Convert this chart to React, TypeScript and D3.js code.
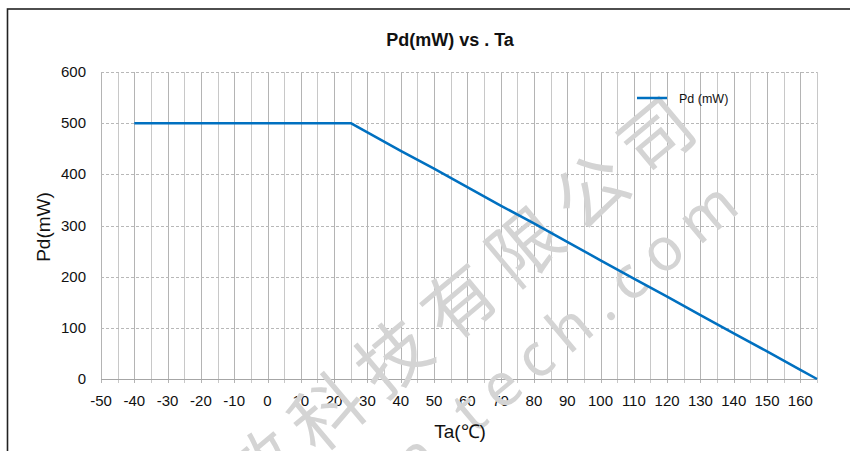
import React, { useEffect, useRef } from 'react';
import * as d3 from 'd3';

// Ta (°C) vs Pd (mW) derating points
const temps = [-40, 25, 30, 40, 50, 60, 70, 80, 90, 100, 110, 120, 130, 140, 150, 160, 165];
const power = [500, 500, 482, 446, 411, 375, 339, 304, 268, 232, 196, 161, 125, 89, 54, 18, 0];
const xTicks = [-50, -40, -30, -20, -10, 0, 10, 20, 30, 40, 50, 60, 70, 80, 90, 100, 110, 120, 130, 140, 150, 160];
const yTicks = [0, 100, 200, 300, 400, 500, 600];
const seriesName = 'Pd (mW)';
const watermarkCn = '敏科技有限公司';
const watermarkEn = 'n tech.com';

function App() {
  const ref = useRef<SVGSVGElement>(null);

  useEffect(() => {
    const svg = d3.select(ref.current);
    svg.selectAll('*').remove();

    const width = 850;
    const height = 451;
    const font = '"Liberation Sans", Arial, sans-serif';

    svg.attr('width', width).attr('height', height);

    svg.append('rect').attr('width', width).attr('height', height).attr('fill', '#fff');

    // outer chart border (runs off right / bottom)
    svg.append('rect')
      .attr('x', 7.5).attr('y', 9)
      .attr('width', 900).attr('height', 500)
      .attr('fill', 'none')
      .attr('stroke', '#222')
      .attr('stroke-width', 1.6);

    const x = d3.scaleLinear().domain([-50, 165]).range([101, 817]);
    const y = d3.scaleLinear().domain([0, 600]).range([379, 72]);

    // vertical grid every 5 degrees
    const vLines = d3.range(-50, 166, 5);
    svg.append('g').selectAll('line')
      .data(vLines)
      .enter()
      .append('line')
      .attr('x1', d => Math.round(x(d)) + 0.5)
      .attr('x2', d => Math.round(x(d)) + 0.5)
      .attr('y1', y(600))
      .attr('y2', y(0) + 4)
      .attr('stroke', d => (d % 10 === 0 ? '#b4b4b4' : '#c8c8c8'))
      .attr('stroke-width', 1);

    // horizontal dashed grid
    svg.append('g').selectAll('line')
      .data(yTicks.filter(d => d > 0))
      .enter()
      .append('line')
      .attr('x1', x(-50))
      .attr('x2', x(165))
      .attr('y1', d => Math.round(y(d)) + 0.5)
      .attr('y2', d => Math.round(y(d)) + 0.5)
      .attr('stroke', '#b8b8b8')
      .attr('stroke-dasharray', '3,2')
      .attr('stroke-width', 1);

    // x axis line
    svg.append('line')
      .attr('x1', x(-50)).attr('x2', x(165))
      .attr('y1', Math.round(y(0)) + 0.5).attr('y2', Math.round(y(0)) + 0.5)
      .attr('stroke', '#a6a6a6');

    // y tick labels
    svg.append('g').selectAll('text')
      .data(yTicks)
      .enter()
      .append('text')
      .attr('x', 86)
      .attr('y', d => y(d) + 5)
      .attr('text-anchor', 'end')
      .style('font-family', font)
      .style('font-size', '15px')
      .attr('fill', '#111')
      .text(d => d);

    // x tick labels
    svg.append('g').selectAll('text')
      .data(xTicks)
      .enter()
      .append('text')
      .attr('x', d => x(d))
      .attr('y', 406)
      .attr('text-anchor', 'middle')
      .style('font-family', font)
      .style('font-size', '15px')
      .attr('fill', '#111')
      .text(d => d);

    // watermark
    const wm = svg.append('g').attr('fill', '#d4d4d4').style('pointer-events', 'none');
    wm.append('text')
      .attr('transform', 'translate(712,124) rotate(-40)')
      .attr('text-anchor', 'end')
      .style('font-family', '"Noto Sans CJK SC", sans-serif')
      .style('font-size', '72px')
      .style('letter-spacing', '14px')
      .text(watermarkCn);
    wm.append('text')
      .attr('transform', 'translate(752,202) rotate(-40)')
      .attr('text-anchor', 'end')
      .style('font-family', '"Noto Sans", sans-serif')
      .style('font-size', '60px')
      .style('letter-spacing', '13px')
      .text(watermarkEn);

    // data line
    const line = d3.line<number>()
      .x((d, i) => x(temps[i]))
      .y(d => y(d));

    svg.append('path')
      .datum(power)
      .attr('d', line)
      .attr('fill', 'none')
      .attr('stroke', '#0070C0')
      .attr('stroke-width', 2.5)
      .attr('stroke-linejoin', 'round');

    // title
    svg.append('text')
      .attr('x', 450).attr('y', 46)
      .attr('text-anchor', 'middle')
      .style('font-family', font)
      .style('font-size', '18px')
      .style('font-weight', 'bold')
      .attr('fill', '#111')
      .text('Pd(mW) vs . Ta');

    // axis titles
    svg.append('text')
      .attr('transform', 'translate(50,227) rotate(-90)')
      .attr('text-anchor', 'middle')
      .style('font-family', font)
      .style('font-size', '19px')
      .attr('fill', '#111')
      .text('Pd(mW)');

    svg.append('text')
      .attr('x', 460).attr('y', 438)
      .attr('text-anchor', 'middle')
      .style('font-family', font)
      .style('font-size', '19px')
      .attr('fill', '#111')
      .text('Ta(℃)');

    // legend
    const legend = svg.append('g').attr('transform', 'translate(637,98)');
    legend.append('line')
      .attr('x1', 0).attr('x2', 30)
      .attr('y1', 0).attr('y2', 0)
      .attr('stroke', '#0070C0')
      .attr('stroke-width', 2.5);
    legend.append('text')
      .attr('x', 42).attr('y', 4.5)
      .style('font-family', font)
      .style('font-size', '12.5px')
      .attr('fill', '#111')
      .text(seriesName);
  }, []);

  return (
    <div style={{ position: 'absolute', left: 0, top: 0 }}>
      <svg ref={ref}></svg>
    </div>
  );
}

export default App;
